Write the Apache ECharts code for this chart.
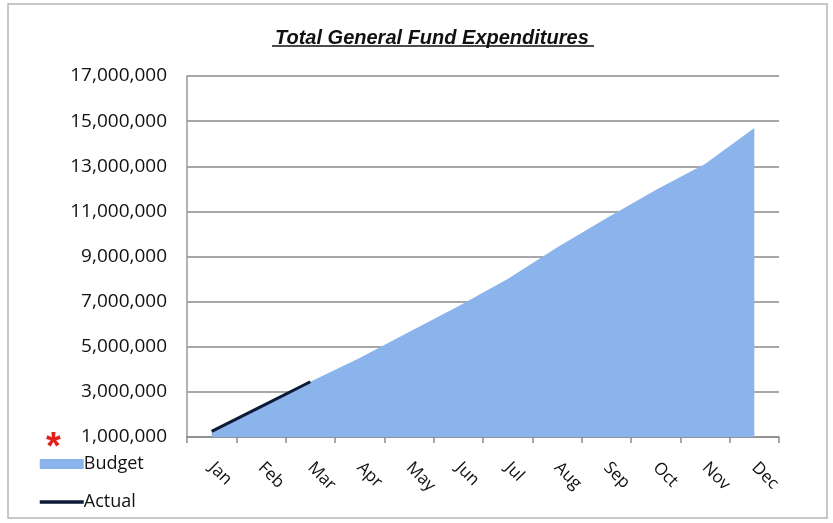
<!DOCTYPE html>
<html>
<head>
<meta charset="utf-8">
<script src="https://cdn.jsdelivr.net/npm/echarts@6/dist/echarts.min.js"></script>
<style>
html,body{margin:0;padding:0;background:#fff;}
#c{width:833px;height:523px;}
</style>
</head>
<body>
<div id="c"></div>
<script>
const titleText = 'Total General Fund Expenditures';
const months = ['Jan','Feb','Mar','Apr','May','Jun','Jul','Aug','Sep','Oct','Nov','Dec'];
const budget = [1200000, 2300000, 3450000, 4500000, 5650000, 6800000, 8000000, 9400000, 10700000, 11950000, 13100000, 14700000];
const actual = [1250000, 2350000, 3450000];
const yMin = 1000000, yMax = 17000000, yStep = 2000000;

const chart = echarts.init(document.getElementById('c'), null, {renderer:'canvas'});
const font = 'Open Sans, Liberation Sans, sans-serif';
chart.setOption({
  backgroundColor:'#ffffff',
  animation:false,
  title:{
    text:titleText, left:270, top:23,
    textStyle:{fontFamily:'Liberation Sans, sans-serif', fontSize:20, fontWeight:'bold', fontStyle:'italic', color:'#111'}
  },
  legend:{
    orient:'vertical', left:33, top:450, itemWidth:44, itemHeight:10, itemGap:20,
    textStyle:{fontFamily:font, fontSize:18, color:'#111', padding:[0,0,0,-5]},
    data:[{name:'Budget', icon:'rect'}, {name:'Actual', itemStyle:{opacity:0}, lineStyle:{width:3.5, color:'#0d1b36'}}]
  },
  grid:{left:187, right:54, top:76, bottom:86, containLabel:false},
  xAxis:{
    type:'category', data:months, boundaryGap:true,
    axisLine:{show:true, lineStyle:{color:'#8a8a8a', width:1.5}},
    axisTick:{show:true, length:6, lineStyle:{color:'#8a8a8a', width:1.5}},
    axisLabel:{rotate:-45, margin:28, fontFamily:font, fontSize:17, color:'#111', interval:0}
  },
  yAxis:{
    type:'value', min:yMin, max:yMax, interval:yStep,
    axisLine:{show:true, lineStyle:{color:'#9a9a9a', width:1.5}},
    axisTick:{show:false},
    splitLine:{lineStyle:{color:'#8a8a8a', width:1.5}},
    axisLabel:{margin:20, fontFamily:font, fontSize:19, color:'#111',
      formatter:v=>v.toLocaleString('en-US')}
  },
  series:[
    {name:'Budget', type:'line', data:budget, symbol:'none', itemStyle:{color:'#8CB4EC'},
     lineStyle:{width:0}, areaStyle:{color:'#8CB4EC', opacity:1, origin:'start'}, z:2},
    {name:'Actual', type:'line', data:actual, symbol:'none', itemStyle:{color:'#0d1b36'},
     lineStyle:{color:'#0d1b36', width:3}, z:3}
  ],
  graphic:[
    {type:'rect', shape:{x:8, y:4, width:819, height:514}, style:{fill:null, stroke:'#b5b5b5', lineWidth:1.5}, silent:true},
    {type:'line', shape:{x1:272, y1:46, x2:594, y2:46}, style:{stroke:'#111', lineWidth:1.5}, silent:true},
    {type:'text', left:46, top:430, style:{text:'*', fill:'#e0201b', font:'bold 38px Liberation Sans, sans-serif'}, silent:true}
  ]
});
</script>
</body>
</html>
